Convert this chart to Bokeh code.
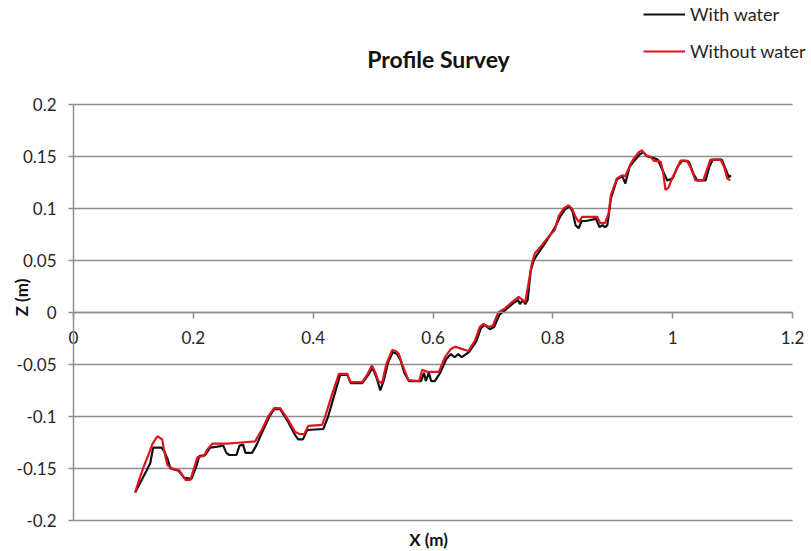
from math import pi

from bokeh.embed import file_html
from bokeh.models import (CustomJSTickFormatter, FixedTicker, Label, Legend,
                          LegendItem, LinearAxis, Range1d)
from bokeh.plotting import figure
from bokeh.resources import INLINE

# Profile measured with water in the channel
with_water_x = [
    0.103, 0.112, 0.122, 0.128, 0.133, 0.147, 0.152, 0.157, 0.162, 0.175,
    0.185, 0.197, 0.205, 0.210, 0.220, 0.228, 0.240, 0.250, 0.255, 0.260,
    0.272, 0.277, 0.283, 0.287, 0.298, 0.305, 0.315, 0.327, 0.335, 0.345,
    0.358, 0.370, 0.375, 0.383, 0.390, 0.417, 0.425, 0.436, 0.445, 0.457,
    0.463, 0.482, 0.492, 0.499, 0.506, 0.512, 0.518, 0.525, 0.533, 0.540,
    0.546, 0.552, 0.560, 0.580, 0.585, 0.588, 0.593, 0.597, 0.603, 0.612,
    0.622, 0.630, 0.636, 0.642, 0.648, 0.660, 0.672, 0.680, 0.686, 0.695,
    0.702, 0.711, 0.722, 0.734, 0.742, 0.745, 0.750, 0.754, 0.758, 0.763,
    0.768, 0.772, 0.784, 0.795, 0.804, 0.812, 0.820, 0.828, 0.833, 0.838,
    0.843, 0.848, 0.855, 0.872, 0.878, 0.883, 0.887, 0.891, 0.897, 0.907,
    0.916, 0.921, 0.928, 0.936, 0.945, 0.951, 0.958, 0.966, 0.975, 0.983,
    0.991, 1.000, 1.008, 1.016, 1.027, 1.035, 1.041, 1.055, 1.061, 1.067,
    1.082, 1.089, 1.094, 1.097,
]
with_water_z = [
    -0.173, -0.163, -0.152, -0.145, -0.130, -0.130, -0.134, -0.141, -0.150, -0.152,
    -0.159, -0.160, -0.148, -0.138, -0.137, -0.130, -0.129, -0.128, -0.135, -0.137,
    -0.137, -0.128, -0.127, -0.135, -0.135, -0.128, -0.115, -0.100, -0.093, -0.093,
    -0.105, -0.118, -0.122, -0.122, -0.113, -0.112, -0.100, -0.078, -0.060, -0.060,
    -0.068, -0.068, -0.060, -0.053, -0.063, -0.075, -0.065, -0.048, -0.038, -0.040,
    -0.046, -0.058, -0.066, -0.066, -0.058, -0.066, -0.058, -0.066, -0.066, -0.058,
    -0.045, -0.040, -0.043, -0.040, -0.043, -0.038, -0.028, -0.015, -0.012, -0.016,
    -0.014, -0.002, 0.003, 0.009, 0.012, 0.008, 0.012, 0.008, 0.012, 0.040,
    0.050, 0.054, 0.064, 0.074, 0.082, 0.092, 0.099, 0.102, 0.097, 0.084,
    0.081, 0.088, 0.088, 0.090, 0.082, 0.084, 0.082, 0.084, 0.110, 0.128,
    0.131, 0.124, 0.140, 0.146, 0.152, 0.154, 0.150, 0.149, 0.147, 0.137,
    0.127, 0.129, 0.140, 0.146, 0.145, 0.133, 0.127, 0.127, 0.140, 0.147,
    0.147, 0.137, 0.130, 0.132,
]

# Profile measured without water
without_water_x = [
    0.103, 0.110, 0.118, 0.125, 0.132, 0.140, 0.148, 0.152, 0.157, 0.165,
    0.177, 0.187, 0.195, 0.207, 0.218, 0.223, 0.232, 0.257, 0.280, 0.303,
    0.315, 0.325, 0.335, 0.345, 0.358, 0.370, 0.378, 0.385, 0.392, 0.415,
    0.420, 0.432, 0.443, 0.457, 0.462, 0.482, 0.490, 0.498, 0.504, 0.509,
    0.515, 0.522, 0.532, 0.538, 0.543, 0.548, 0.559, 0.577, 0.582, 0.590,
    0.610, 0.620, 0.630, 0.637, 0.648, 0.659, 0.670, 0.678, 0.684, 0.693,
    0.700, 0.709, 0.720, 0.732, 0.743, 0.754, 0.760, 0.765, 0.770, 0.782,
    0.793, 0.803, 0.810, 0.818, 0.826, 0.832, 0.838, 0.843, 0.849, 0.874,
    0.879, 0.887, 0.893, 0.897, 0.907, 0.916, 0.921, 0.930, 0.935, 0.943,
    0.949, 0.955, 0.963, 0.968, 0.980, 0.984, 0.988, 0.993, 0.999, 1.006,
    1.013, 1.024, 1.031, 1.038, 1.051, 1.057, 1.063, 1.080, 1.086, 1.091,
    1.096,
]
without_water_z = [
    -0.173, -0.160, -0.147, -0.137, -0.126, -0.119, -0.122, -0.135, -0.147, -0.150,
    -0.152, -0.161, -0.161, -0.139, -0.138, -0.132, -0.126, -0.126, -0.125, -0.124,
    -0.112, -0.100, -0.092, -0.092, -0.103, -0.115, -0.117, -0.117, -0.109, -0.108,
    -0.100, -0.078, -0.059, -0.059, -0.067, -0.067, -0.060, -0.051, -0.058, -0.066,
    -0.068, -0.050, -0.036, -0.037, -0.040, -0.049, -0.065, -0.066, -0.055, -0.057,
    -0.057, -0.043, -0.035, -0.033, -0.035, -0.037, -0.027, -0.014, -0.011, -0.014,
    -0.0125, 0.000, 0.004, 0.010, 0.015, 0.010, 0.030, 0.047, 0.057, 0.065,
    0.073, 0.079, 0.093, 0.100, 0.103, 0.100, 0.092, 0.087, 0.092, 0.092,
    0.086, 0.086, 0.095, 0.113, 0.129, 0.132, 0.131, 0.143, 0.148, 0.154,
    0.156, 0.151, 0.150, 0.146, 0.145, 0.135, 0.118, 0.120, 0.129, 0.137,
    0.146, 0.146, 0.138, 0.127, 0.127, 0.137, 0.147, 0.147, 0.140, 0.129,
    0.127,
]

x_ticks = [0, 0.2, 0.4, 0.6, 0.8, 1.0, 1.2]
z_ticks = [-0.2, -0.15, -0.1, -0.05, 0, 0.05, 0.1, 0.15, 0.2]

series_names = ["With water", "Without water"]
series_colors = ["#111111", "#e0141e"]

chart_title = "Profile Survey"
x_title = "X (m)"
z_title = "Z (m)"

FONT = "Lato"
GRID = "#8e8e8e"
TEXT = "#262626"

W, H = 811, 551
# pixel margins around the plotting box (left, right, top, bottom)
ML, MR, MT, MB = 73, 19, 104, 31

x_lo, x_hi = x_ticks[0], x_ticks[-1]
z_lo, z_hi = z_ticks[0], z_ticks[-1]
sx = (x_hi - x_lo) / (W - ML - MR)
sz = (z_hi - z_lo) / (H - MT - MB)

# the frame covers the whole canvas so that axes and texts are never clipped
p = figure(
    width=W, height=H,
    x_range=Range1d(x_lo - ML * sx, x_hi + MR * sx),
    y_range=Range1d(z_lo - MB * sz, z_hi + MT * sz),
    output_backend="svg", toolbar_location=None,
    x_axis_location=None, y_axis_location=None,
    min_border=0,
)
p.outline_line_color = None
p.background_fill_color = "white"
p.border_fill_color = "white"
p.xgrid.visible = False
p.ygrid.visible = False

fmt = CustomJSTickFormatter(code="return String(Number(tick.toFixed(2)));")

# horizontal grid lines across the plotting box
p.segment(x0=[x_lo] * len(z_ticks), y0=z_ticks, x1=[x_hi] * len(z_ticks), y1=z_ticks,
          line_color=GRID, line_width=1.5)

# vertical axis at X = 0
yax = LinearAxis(ticker=FixedTicker(ticks=z_ticks), formatter=fmt, bounds=(z_lo, z_hi))
yax.fixed_location = x_lo
yax.axis_line_color = GRID
yax.axis_line_width = 1.5
yax.major_tick_line_color = GRID
yax.major_tick_line_width = 1.5
yax.major_tick_out = 5
yax.major_tick_in = 0
yax.minor_tick_line_color = None
yax.major_label_standoff = 12
yax.major_label_text_font = FONT
yax.major_label_text_font_size = "17px"
yax.major_label_text_color = TEXT
p.add_layout(yax, "left")

# horizontal axis crossing at Z = 0
xax = LinearAxis(ticker=FixedTicker(ticks=x_ticks), formatter=fmt, bounds=(x_lo, x_hi))
xax.fixed_location = 0
xax.axis_line_color = GRID
xax.axis_line_width = 1.5
xax.major_tick_line_color = GRID
xax.major_tick_line_width = 1.5
xax.major_tick_out = 6
xax.major_tick_in = 0
xax.minor_tick_line_color = None
xax.major_label_standoff = 12
xax.major_label_text_font = FONT
xax.major_label_text_font_size = "17px"
xax.major_label_text_color = TEXT
p.add_layout(xax, "below")

r_with = p.line(with_water_x, with_water_z, line_color=series_colors[0], line_width=2.2)
r_without = p.line(without_water_x, without_water_z, line_color=series_colors[1], line_width=2.2)

# legend box: two rows of 20 px with 15 px between them, anchored by its lower-left corner
legend = Legend(
    items=[LegendItem(label=series_names[0], renderers=[r_with]),
           LegendItem(label=series_names[1], renderers=[r_without])],
    location=(643, H - 7 - 55),
    orientation="vertical",
    glyph_width=42, glyph_height=20, label_height=20,
    label_standoff=5, spacing=15, padding=0, margin=0,
    label_text_font=FONT, label_text_font_size="18px", label_text_color=TEXT,
    border_line_color=None, background_fill_alpha=0,
)
p.add_layout(legend, "center")

p.add_layout(Label(x=438, y=H - 58, x_units="screen", y_units="screen",
                   text=chart_title, text_align="center", text_baseline="middle",
                   text_font=FONT, text_font_style="bold", text_font_size="23px",
                   text_color="#111111"))
p.add_layout(Label(x=428, y=H - 539, x_units="screen", y_units="screen",
                   text=x_title, text_align="center", text_baseline="middle",
                   text_font=FONT, text_font_style="bold", text_font_size="17px",
                   text_color="#111111"))
p.add_layout(Label(x=21, y=H - 297, x_units="screen", y_units="screen",
                   text=z_title, angle=pi / 2, text_align="center", text_baseline="middle",
                   text_font=FONT, text_font_style="bold", text_font_size="17px",
                   text_color="#111111"))

open("out.html", "w").write(file_html(p, INLINE))
